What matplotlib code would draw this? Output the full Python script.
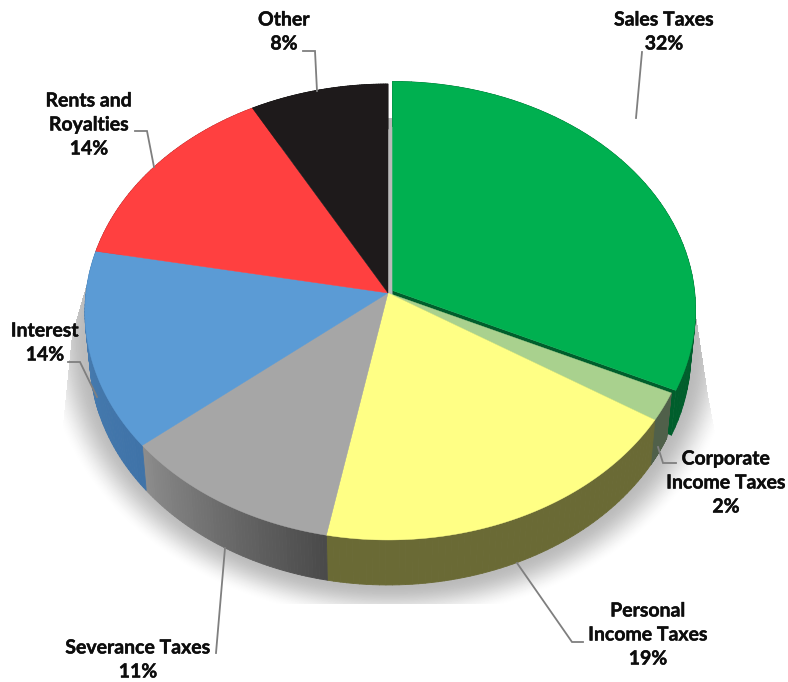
import numpy as np
import matplotlib
matplotlib.use("Agg")
import matplotlib.pyplot as plt
import matplotlib.patheffects as pe
from matplotlib.collections import PolyCollection
from matplotlib.colors import to_rgb
from matplotlib.path import Path

names = ["Sales Taxes", "Corporate\nIncome Taxes", "Personal\nIncome Taxes",
         "Severance Taxes", "Interest", "Rents and\nRoyalties", "Other"]
values = [32, 2, 19, 11, 14, 14, 8]
top_colors = ["#00B050", "#A9D18E", "#FFFF85", "#A6A6A6", "#5B9BD5", "#FF4040", "#1E1A1B"]
# rim shading, first colour at the start of the slice, second at its end
rim_colors = [("#005E2C", "#005E2C"), ("#50604A", "#50604A"), ("#6A6A35", "#6A6A35"),
              ("#4A4A4A", "#8C8C8C"), ("#3F73A8", "#4A7FB2"), ("#A02828", "#A02828"),
              ("#111111", "#111111")]

# label centres and leader lines, in pixels
label_xy = [(664, 32), (726, 483), (648, 635), (138, 660), (45, 343), (89, 125), (284, 32)]
leaders = [[(642, 52), (636, 118)],
           [(658, 447), (663, 463), (676, 463)],
           [(517, 563), (572, 642), (583, 642)],
           [(225, 548), (216, 653)],
           [(68, 362), (80, 362), (97, 397)],
           [(135, 131), (147, 131), (154, 167)],
           [(303, 51), (315, 51), (317, 91)]]

W, H = 788, 682
center = (388.0, 293.0)
sales_center = (392.5, 290.5)
RX, RY, PERSP = 302.0, 226.4, 0.0833
DEPTH = 45.0
RIM_SQUEEZE = 0.984


def rim_point(deg, c):
    # circle point seen in perspective, angle clockwise from twelve o'clock
    a = np.radians(deg)
    u, v = np.sin(a), np.cos(a)
    w = 1 + PERSP * v
    return c[0] + RX * u / w, c[1] - RY * v / w


def lower(x, y, c):
    return c[0] + (x - c[0]) * RIM_SQUEEZE, y + DEPTH


def mix(c0, c1, t):
    c0, c1 = np.array(to_rgb(c0)), np.array(to_rgb(c1))
    return tuple(c0 + (c1 - c0) * t)


fig = plt.figure(figsize=(W / 100, H / 100), dpi=100)
ax = fig.add_axes([0, 0, 1, 1])
ax.set_xlim(0, W)
ax.set_ylim(H, 0)
ax.axis("off")

# soft grey shadow behind the pie
xx, yy = np.meshgrid(np.arange(W) + 0.5, np.arange(H) + 0.5)
r = np.sqrt(((xx - 390) / 303) ** 2 + ((yy - 338) / 247) ** 2)
fade = np.clip((1.15 - r) / 0.15, 0, 1)
fade = fade * fade * (3 - 2 * fade)
shade = 1 - 0.27 * fade
outline = Path([(388, 118), (392, 118), (688, 262), (708, 395), (722, 470), (722, 604),
                (55, 604), (55, 470), (63, 425), (72, 335), (95, 255), (388, 118)])
inside = outline.contains_points(np.c_[xx.ravel(), yy.ravel()]).reshape(xx.shape)
shade[~inside] = 1.0
ax.imshow(shade, cmap="gray", vmin=0, vmax=1, extent=(0, W, H, 0), aspect="auto",
          interpolation="bilinear", zorder=0)

edges = np.concatenate([[0], np.cumsum(values)]) / sum(values) * 360.0


def add_rim(i, c, zorder):
    degs = np.linspace(edges[i], edges[i + 1], 60)
    polys, cols = [], []
    for j in range(len(degs) - 1):
        x0, y0 = rim_point(degs[j], c)
        x1, y1 = rim_point(degs[j + 1], c)
        polys.append([(x0, y0), (x1, y1), lower(x1, y1, c), lower(x0, y0, c)])
        cols.append(mix(*rim_colors[i], j / (len(degs) - 2)))
    ax.add_collection(PolyCollection(polys, facecolors=cols, edgecolors=cols,
                                     linewidths=0.6, zorder=zorder))


def add_top(i, c, zorder):
    degs = np.linspace(edges[i], edges[i + 1], 120)
    pts = [c] + [rim_point(d, c) for d in degs]
    ax.fill(*zip(*pts), color=top_colors[i], lw=0.3, zorder=zorder)


# the sales slice sits pulled out from the rest, so its cut face shows
x_end, y_end = rim_point(edges[1], sales_center)
cut = [sales_center, (x_end, y_end), lower(x_end, y_end, sales_center),
       (sales_center[0], sales_center[1] + DEPTH)]
ax.fill(*zip(*cut), color=rim_colors[0][0], lw=0, zorder=1)
add_rim(0, sales_center, 1)
for i in range(1, len(values)):
    add_rim(i, center, 2)
for i in range(1, len(values)):
    add_top(i, center, 3)
add_top(0, sales_center, 4)

for pts in leaders:
    ax.plot(*zip(*pts), color="#7F7F7F", lw=1.3, solid_joinstyle="miter", zorder=5)

for name, val, (x, y) in zip(names, values, label_xy):
    ax.text(x, y, f"{name}\n{val}%", ha="center", va="center", fontsize=14,
            family="Lato", weight="bold", color="#0D0D0D", linespacing=1.5, zorder=6,
            path_effects=[pe.withStroke(linewidth=0.3, foreground="#0D0D0D")])

fig.savefig("out.png", dpi=100)
